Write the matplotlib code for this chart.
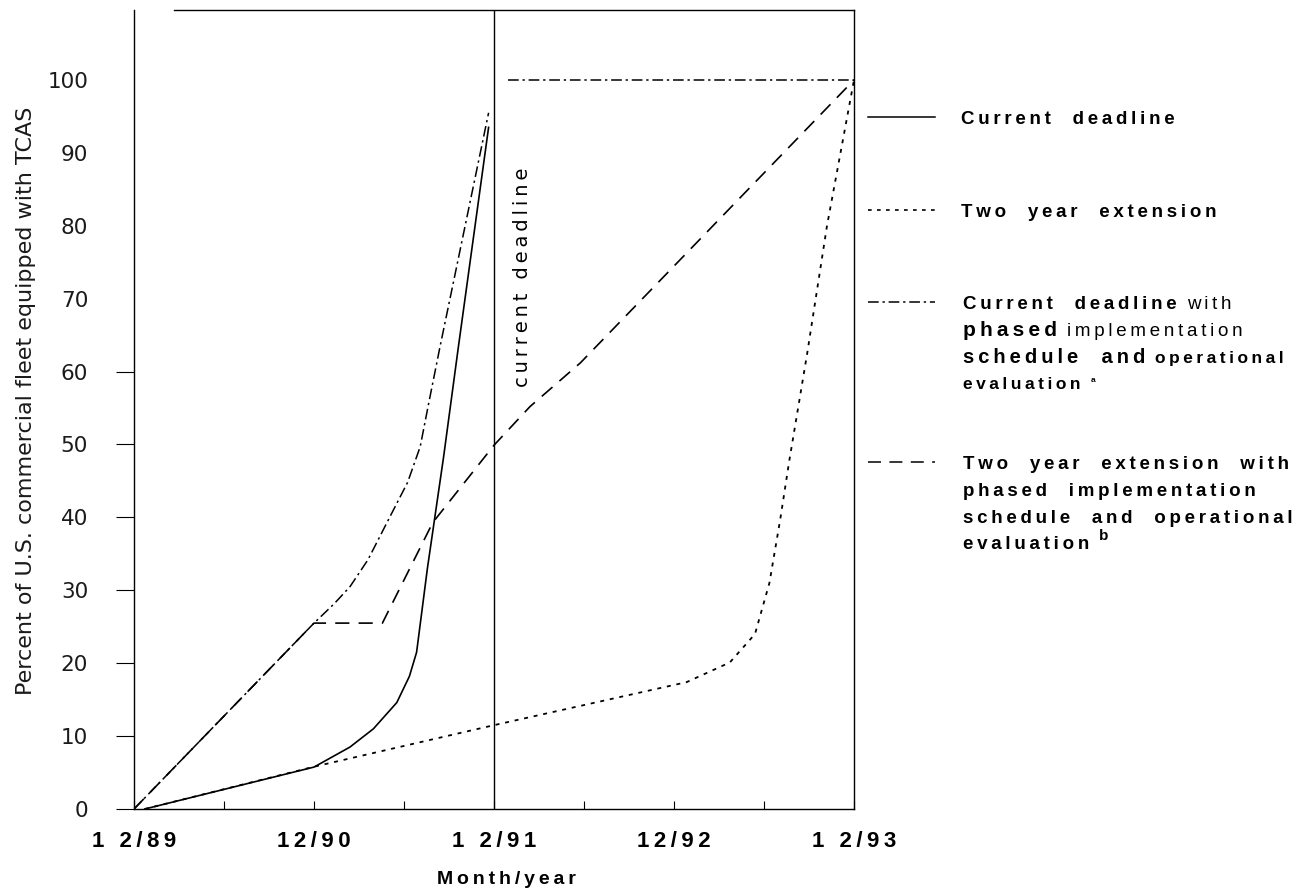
import matplotlib
matplotlib.use('Agg')
import matplotlib.pyplot as plt
from matplotlib.lines import Line2D

# x in years after 12/89, y in percent of fleet
cur_x = [0.06, 1.0, 1.2, 1.33, 1.46, 1.53, 1.57, 1.63, 1.72, 1.80, 1.97]
cur_y = [0, 5.75, 8.5, 11.0, 14.6, 18.2, 21.5, 33.0, 48.3, 63.0, 93.5]

ext_x = [0.06, 1.0, 2.0, 3.07, 3.31, 3.45, 3.53, 3.59, 3.64, 3.74, 3.85, 4.0]
ext_y = [0, 5.8, 11.5, 17.4, 20.1, 24.0, 31.0, 39.7, 47.7, 62.5, 80.0, 100]

phcur_x = [0.0, 1.0, 1.11, 1.2, 1.3, 1.42, 1.52, 1.59, 1.64, 1.70, 1.97]
phcur_y = [0, 25.5, 28.1, 30.5, 34.2, 40.0, 44.8, 49.7, 56.0, 63.4, 95.5]
phcur_top_x = [2.08, 4.0]
phcur_top_y = [100, 100]

phext_x = [0.0, 1.0, 1.38, 1.66, 2.0, 2.2, 2.48, 4.0]
phext_y = [0, 25.5, 25.5, 39.3, 49.9, 55.2, 61.2, 100]

deadline_x = 2.0
xticks = [0, 1, 2, 3, 4]
xlabels = ['1 2/89', '12/90', '1 2/91', '12/92', '1 2/93']
yticks = list(range(0, 101, 10))

DASHED = (0, (8.5, 5.5))
DOTTED = (0, (2.2, 3.2))
DASHDOT = (0, (7, 2.5, 1.5, 2.5))

BOLD = ['Liberation Sans', 'DejaVu Sans']
THIN = ['DejaVu Sans']


def track(s):
    # widen letter spacing like the typeset original
    return '\u2009'.join(s)


fig = plt.figure(figsize=(13, 8.94), dpi=100)
ax = fig.add_axes([134 / 1300, 1 - 809 / 894, 720 / 1300, 799 / 894])

ax.plot(cur_x, cur_y, color='black', lw=1.2)
ax.plot(ext_x, ext_y, color='black', lw=1.3, linestyle=DOTTED)
ax.plot(phcur_x, phcur_y, color='black', lw=1.1, linestyle=DASHDOT)
ax.plot(phcur_top_x, phcur_top_y, color='black', lw=1.1, linestyle=DASHDOT)
ax.plot(phext_x, phext_y, color='black', lw=1.2, linestyle=DASHED)
ax.axvline(deadline_x, color='black', lw=1.0)
ax.text(2.16, 73, track('current deadline'), rotation=90, ha='center', va='center',
        fontsize=14, family=THIN)

ax.set_xlim(0, 4)
ax.set_ylim(0, 109.6)
for sp in ax.spines.values():
    sp.set_linewidth(1.0)
ax.spines['top'].set_bounds(0.22, 4)

ax.set_xticks(xticks)
ax.set_xticklabels([track(s) for s in xlabels], fontsize=16, fontweight='bold', family=BOLD)
ax.set_xticks([0.5, 1.5, 2.5, 3.5], minor=True)
ax.tick_params(axis='x', which='both', direction='in', length=6, width=0.8, pad=16)

ax.set_yticks(yticks)
ax.set_yticklabels([str(v) for v in yticks], fontsize=15.5, family=THIN, color='#1a1a1a')
ax.tick_params(axis='y', direction='out', length=13, width=0.8, pad=20)
for v, t in zip(yticks, ax.yaxis.get_major_ticks()):
    t.tick1line.set_visible(v <= 60)

fig.text(26 / 1300, 1 - 401 / 894, 'Percent of U.S. commercial fleet equipped with TCAS',
         rotation=90, ha='center', va='center', fontsize=16, family=THIN, color='#1a1a1a')
fig.text(506 / 1300, 1 - 879 / 894, track('Month/year'), ha='center', va='center',
         fontsize=14, fontweight='bold', family=BOLD)

# legend drawn by hand so weights can be mixed inside an entry
W, H = 1300.0, 894.0
renderer = fig.canvas.get_renderer()


def key(y, style, lw=1.1):
    fig.add_artist(Line2D([868 / W, 935 / W], [1 - y / H, 1 - y / H],
                          transform=fig.transFigure, color='black', lw=lw, linestyle=style))


def text_line(x, y, parts):
    x = x / W
    for s, size, weight, rise in parts:
        t = fig.text(x, 1 - (y - rise) / H, track(s), fontsize=size, fontweight=weight,
                     family=BOLD, va='baseline', ha='left')
        bb = t.get_window_extent(renderer=renderer)
        x += (bb.width + 10) / W


key(117, '-')
text_line(961, 124, [('Current  deadline', 13.5, 'bold', 0)])

key(210, DOTTED, 1.2)
text_line(961, 217, [('Two  year  extension', 13.5, 'bold', 0)])

key(302, DASHDOT)
text_line(963, 309, [('Current  deadline', 13.5, 'bold', 0), ('with', 13.5, 'normal', 0)])
text_line(963, 336, [('phased', 15, 'bold', 0), ('implementation', 13.5, 'normal', 0)])
text_line(963, 363, [('schedule  and', 14.5, 'bold', 0), ('operational', 12.5, 'bold', 0)])
text_line(963, 389, [('evaluation', 12.5, 'bold', 0), ('a', 6, 'bold', 7)])

key(462, DASHED)
text_line(963, 469, [('Two  year  extension  with', 13.5, 'bold', 0)])
text_line(963, 496, [('phased  implementation', 13.5, 'bold', 0)])
text_line(963, 523, [('schedule  and  operational', 13.5, 'bold', 0)])
text_line(963, 549, [('evaluation', 13.5, 'bold', 0), ('b', 11, 'bold', 9)])

fig.savefig('out.png', dpi=100)
